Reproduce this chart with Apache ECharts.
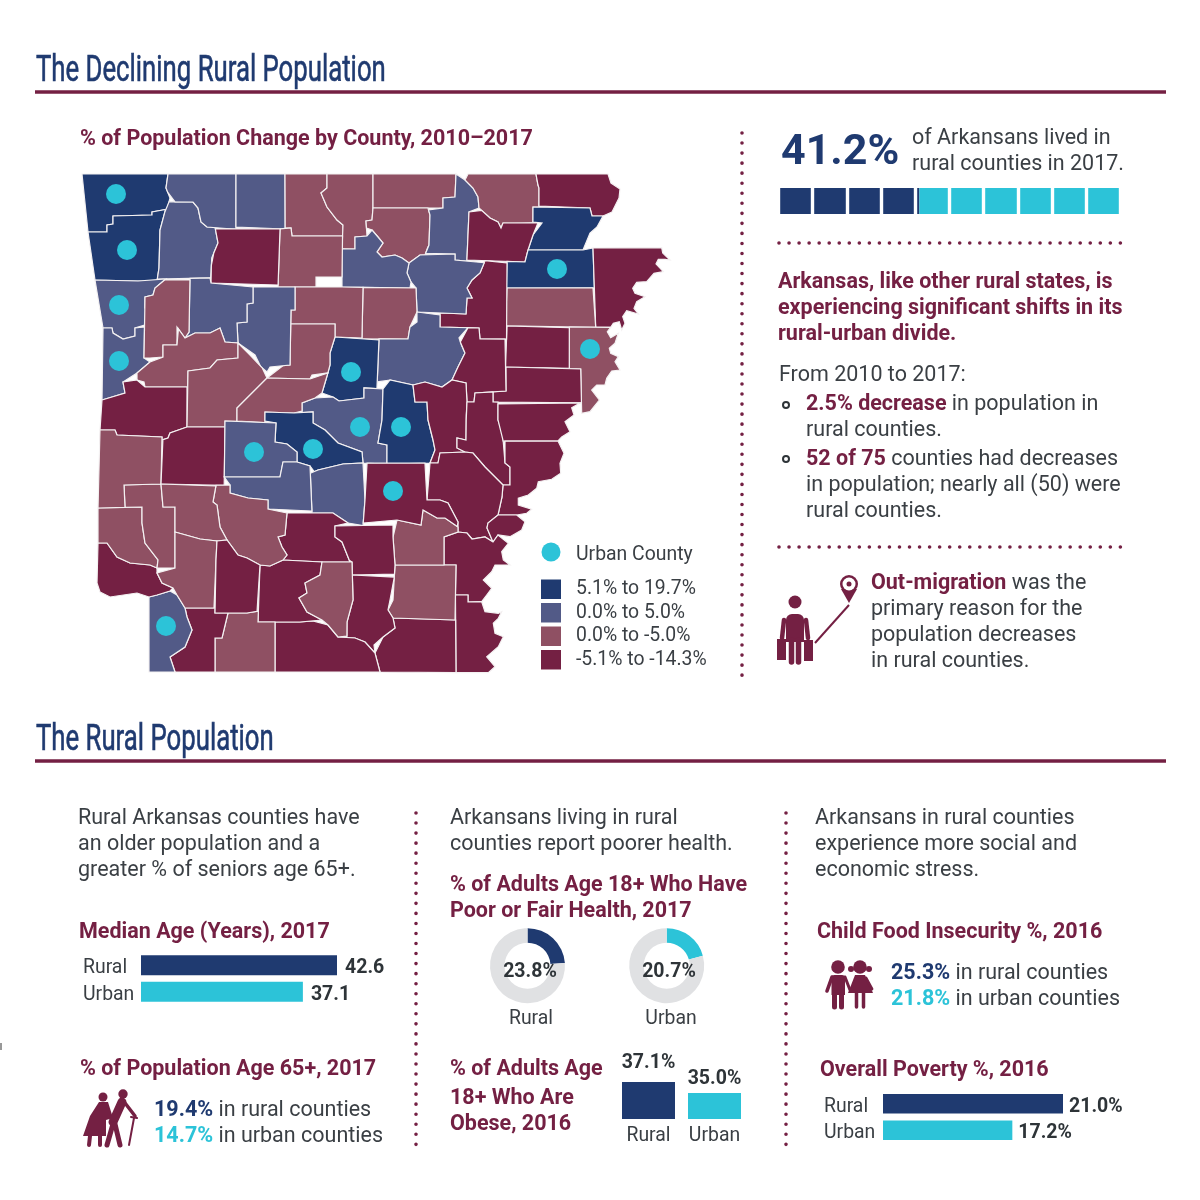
<!DOCTYPE html>
<html><head><meta charset="utf-8">
<style>html,body{margin:0;padding:0;background:#fff}#c{width:1200px;height:1200px}</style>
<script src="https://cdn.jsdelivr.net/npm/echarts@6/dist/echarts.min.js"></script>
</head><body><div id="c"></div>
<script>
// ---------- DATA ----------
const classLabels = ['5.1% to 19.7%','0.0% to 5.0%','0.0% to -5.0%','-5.1% to -14.3%'];
const growthHigh = ['Benton','Washington','Pulaski','Faulkner','Lonoke','Greene','Craighead'];
const growthLow = ['Madison','Carroll','Boone','Izard','Independence','Stone','Johnson','Crawford','Sebastian','Saline','Garland','Hot Spring','White','Miller','Perry East','Perry South'];
const declineLow = ['Marion','Baxter','Fulton','Sharp','Randolph','Searcy','Cleburne','Van Buren','Pope','Franklin','Logan','Yell','Conway','Poinsett','Crittenden','Lincoln','Drew','Calhoun','Columbia','Hempstead','Sevier','Howard','Polk','Pike','Clark'];
const declineHigh = ['Clay','Lawrence','Mississippi','Cross','St. Francis','Jackson','Woodruff','Newton','Scott','Montgomery','Prairie','Monroe','Lee','Phillips','Arkansas','Desha','Chicot','Chicot South','Ashley','Bradley','Union','Ouachita','Nevada','Lafayette','Little River','Grant','Cleveland','Jefferson'];
const countyOutlines = {
 'Benton':[[82,174],[168,174],[166,188],[170,198],[169,210],[152,212],[152,215],[113,216],[113,224],[107,225],[107,232],[88,232]],
 'Washington':[[89,232],[107,232],[107,225],[113,224],[113,216],[152,215],[152,212],[166,212],[160,230],[159,268],[157,279],[138,279],[138,281],[95,280]],
 'Madison':[[170,202],[193,202],[198,208],[201,222],[207,227],[215,229],[218,243],[212,258],[210,278],[158,278],[160,268],[161,230],[167,212]],
 'Carroll':[[170,174],[236,174],[236,227],[207,227],[201,222],[198,208],[193,202],[175,200],[169,192],[167,188]],
 'Boone':[[237,174],[285,174],[285,228],[237,227]],
 'Marion':[[287,174],[327,174],[327,188],[321,193],[327,207],[337,220],[343,225],[342,236],[292,236],[291,228],[286,228]],
 'Baxter':[[329,174],[373,174],[373,208],[372,220],[366,221],[367,236],[355,237],[355,249],[343,249],[343,225],[337,220],[327,207],[321,193],[328,188]],
 'Fulton':[[374,174],[456,174],[455,197],[443,198],[443,208],[374,208]],
 'Sharp':[[373,209],[428,210],[430,215],[429,245],[426,247],[425,253],[420,255],[409,263],[402,258],[395,255],[382,257],[377,252],[383,243],[378,237],[372,230],[367,228],[368,221],[373,220]],
 'Izard':[[457,174],[465,180],[473,188],[478,197],[479,208],[469,212],[467,260],[455,260],[455,254],[427,253],[429,245],[430,215],[428,210],[443,208],[443,198],[456,197]],
 'Randolph':[[468,174],[536,174],[538,185],[539,188],[539,206],[533,207],[533,222],[503,223],[501,228],[498,222],[490,218],[480,210],[478,197],[473,188],[465,180]],
 'Clay':[[538,174],[608,174],[611,183],[620,189],[619,198],[612,212],[603,216],[592,216],[590,208],[540,207],[539,188],[538,185]],
 'Greene':[[534,208],[590,208],[592,217],[603,217],[597,227],[590,233],[583,250],[528,250],[533,235],[542,223],[534,222]],
 'Lawrence':[[469,212],[480,212],[490,218],[498,222],[501,228],[503,224],[538,224],[533,235],[528,250],[525,262],[468,261]],
 'Craighead':[[527,252],[583,251],[583,248],[593,248],[593,288],[507,288],[507,263],[525,262]],
 'Mississippi':[[595.7,247.7],[661.7,247.7],[662.7,253],[670,260],[665,259.3],[658.3,259.3],[656,264],[663.3,271.7],[654,273.3],[646.7,281.7],[636.7,282.3],[632.7,288.3],[635,293.3],[645,296.7],[636.7,301.7],[634,308.3],[638.3,314],[626.7,310.7],[622.7,316.7],[625,323.3],[621.7,330],[619.3,321.7],[613.3,323.3],[610.7,327.3],[595.7,327.3]],
 'Poinsett':[[507,289],[593,290],[594,326],[507,326]],
 'Crittenden':[[569.3,327.7],[610.7,327.7],[607.3,331.7],[610.7,337.7],[618.3,333.3],[615,343.3],[609.3,348.3],[610.7,353.3],[618.3,356.7],[615,361.7],[620,370],[611.7,371],[606.7,378.3],[605,385],[596.7,385],[591.7,390],[599.3,400],[590,411.7],[581.7,413.3],[580.7,369],[569.3,368.3]],
 'Cross':[[507,328],[568,328],[568,368],[506,367]],
 'St. Francis':[[493,392],[506,391],[507,369],[580,370],[580,403],[493,402]],
 'Jackson':[[485,263],[505,263],[505,339],[480,339],[479,328],[440,327],[440,315],[466,314],[467,298],[472,298],[467,288],[472,280],[480,273]],
 'Independence':[[410,263],[420,255],[455,255],[455,261],[485,263],[480,273],[472,280],[467,288],[472,298],[467,298],[466,313],[417,312],[416,288],[411,282],[407,273]],
 'Stone':[[343,251],[355,250],[355,238],[367,237],[372,230],[378,237],[383,243],[377,252],[382,257],[395,255],[402,258],[409,263],[407,273],[411,282],[410,288],[342,287]],
 'Searcy':[[280,230],[290,230],[291,237],[342,237],[342,277],[316,277],[316,286],[278,285]],
 'Newton':[[217,230],[279,230],[278,284],[211,283],[210,265],[213,253],[218,243]],
 'Cleburne':[[363,289],[415,290],[415,313],[410,327],[408,339],[362,338]],
 'Van Buren':[[295,287],[341,287],[362,289],[361,338],[335,337],[335,324],[290,324],[291,310],[295,310]],
 'White':[[417,314],[440,315],[440,328],[468,328],[459,338],[462,345],[465,353],[458,367],[457,375],[452,380],[442,387],[425,382],[413,385],[390,380],[378,382],[379,340],[408,340],[411,327],[417,322]],
 'Woodruff':[[469,328],[479,328],[480,339],[505,340],[504,390],[482,392],[475,393],[474,402],[467,402],[466,383],[453,380],[458,367],[465,353],[460,342]],
 'Faulkner':[[335,339],[377,340],[377,387],[364,388],[364,398],[339,401],[333,397],[322,393],[327,377],[330,365],[330,353]],
 'Pope':[[291,325],[334,325],[334,338],[330,353],[330,365],[328,373],[312,375],[310,379],[267,378],[283,367],[290,365]],
 'Johnson':[[253,287],[294,287],[294,310],[290,310],[290,365],[270,367],[267,372],[262,365],[255,355],[238,343],[237,323],[247,322],[247,304],[253,303]],
 'Perry East':[[190,280],[210,280],[211,285],[252,286],[252,303],[246,304],[246,322],[237,323],[237,342],[225,342],[220,328],[210,333],[195,333],[185,338],[189,332]],
 'Perry South':[[302,403],[315,398],[333,397],[339,401],[364,399],[364,389],[383,389],[382,420],[378,443],[387,445],[387,463],[363,463],[362,452],[338,443],[325,430],[313,423],[313,412],[302,411]],
 'Crawford':[[96,282],[138,282],[166,281],[155,288],[153,295],[145,297],[146,308],[150,308],[148,324],[135,328],[135,336],[123,339],[113,333],[112,328],[103,328]],
 'Sebastian':[[103,330],[112,328],[113,333],[123,339],[135,336],[135,328],[144,327],[144,358],[150,362],[137,373],[123,382],[125,393],[112,397],[102,400]],
 'Franklin':[[167,281],[188,280],[188,333],[185,338],[177,327],[177,345],[163,345],[163,357],[150,358],[144,358],[145,297],[153,295],[156,288]],
 'Logan':[[150,362],[163,358],[163,346],[177,346],[177,330],[185,338],[195,333],[210,333],[220,328],[225,342],[238,345],[238,358],[217,360],[210,368],[188,371],[187,387],[145,387],[144,382],[137,380],[137,372]],
 'Scott':[[102,401],[125,394],[123,382],[137,381],[144,387],[187,388],[187,427],[170,433],[168,438],[163,440],[162,437],[117,435],[115,430],[100,430]],
 'Yell':[[188,372],[210,369],[217,360],[238,358],[238,345],[250,355],[262,368],[267,378],[237,408],[237,421],[225,421],[225,427],[188,427]],
 'Conway':[[267,379],[311,379],[328,373],[322,392],[315,398],[302,403],[302,411],[294,413],[265,412],[265,421],[238,421],[238,408]],
 'Pulaski':[[266,413],[294,414],[313,413],[313,423],[325,430],[338,443],[362,452],[362,461],[343,464],[318,470],[315,473],[310,466],[297,462],[297,452],[287,444],[275,442],[276,423],[266,421]],
 'Saline':[[318,472],[343,464],[365,463],[365,500],[363,523],[348,523],[333,513],[312,511],[312,473]],
 'Lonoke':[[383,389],[390,381],[413,385],[415,402],[427,402],[428,420],[433,440],[435,450],[430,463],[388,463],[388,444],[378,443],[382,420]],
 'Prairie':[[415,385],[425,382],[442,387],[453,381],[466,383],[466,403],[468,408],[466,415],[466,440],[457,438],[457,448],[465,452],[440,453],[438,463],[430,463],[435,450],[433,440],[428,420],[427,402],[415,402]],
 'Monroe':[[467,404],[475,403],[476,393],[492,392],[493,403],[498,404],[498,420],[505,433],[505,463],[510,467],[510,485],[503,485],[498,480],[485,467],[473,453],[463,450],[457,448],[457,438],[466,440],[466,420]],
 'Lee':[[498,403],[579,405],[571.7,407.7],[574,415],[565,421.7],[570,431.7],[561.7,437],[558,441],[505,441],[498,420]],
 'Phillips':[[505,442.7],[558.3,442.7],[564,453.3],[560,463.3],[560.7,473.3],[551.7,479.3],[538.3,481.7],[536.7,488.3],[528.3,495],[518.3,498.3],[518.3,505],[531.7,509.3],[526.7,513.3],[516.7,515],[498,515],[502,497],[503,486],[510,485],[510,467],[505,463]],
 'Arkansas':[[428,464],[438,464],[440,453],[465,452],[473,453],[485,467],[498,480],[503,486],[502,497],[498,515],[488,523],[487,528],[493,542],[485,537],[472,539],[467,533],[458,532],[458,522],[448,503],[440,500],[427,500]],
 'Desha':[[498,516.7],[516.7,516.7],[525,521.7],[521.7,530],[510,536.7],[498,535],[493,542],[487,528],[488,523]],
 'Chicot':[[444,537],[458,532],[467,535],[472,539],[485,537],[493,542],[498,536.7],[508.3,543.3],[501.7,551.7],[503.3,560],[510,565],[495,565],[491.7,571.7],[483.3,580],[491.7,588.3],[486.7,595],[481.7,601.7],[468,602],[468,595],[456,595],[456,565],[444,563]],
 'Chicot South':[[456,597],[468,597],[468,602],[481.7,602.7],[485,611.7],[498.3,613.3],[501.7,611.7],[498.3,618.3],[493.3,623.3],[495,633.3],[503.3,636.7],[498.3,646.7],[486.7,656.7],[495,666.7],[488.3,672.7],[456,672.7]],
 'Ashley':[[393,618],[455,620],[455,673],[380,672],[375,653],[383,637],[395,628]],
 'Drew':[[395,565],[456,565],[456,618],[395,617],[388,610],[393,600]],
 'Lincoln':[[397,520],[421,525],[423,510],[437,518],[445,518],[457,527],[457,533],[444,537],[444,563],[395,563],[393,537]],
 'Jefferson':[[367,464],[425,464],[427,500],[440,500],[448,505],[458,522],[457,526],[445,518],[437,518],[423,509],[421,525],[397,520],[363,524],[365,500]],
 'Grant':[[287,513],[333,513],[347,522],[350,524],[335,526],[335,537],[342,542],[350,560],[352,562],[322,562],[283,560],[287,555],[282,547],[278,537],[285,535]],
 'Cleveland':[[335,526],[393,525],[393,537],[395,563],[393,574],[352,575],[352,562],[350,560],[342,542],[335,537]],
 'Bradley':[[353,577],[393,577],[390,600],[388,610],[394,618],[394,628],[383,637],[374,645],[375,652],[372,652],[365,642],[355,638],[347,636],[347,622],[353,600]],
 'Union':[[275,623],[300,622],[313,623],[328,625],[338,637],[355,637],[363,640],[375,652],[377,663],[380,672],[275,672]],
 'Ouachita':[[260,565],[270,566],[282,561],[322,562],[320,575],[305,583],[307,593],[299,598],[307,612],[322,620],[300,621],[258,622]],
 'Calhoun':[[323,563],[352,563],[353,600],[347,622],[347,636],[338,637],[328,625],[322,620],[307,612],[299,598],[307,593],[305,583],[320,575]],
 'Columbia':[[228,613],[247,613],[257,611],[258,622],[274,623],[274,672],[215,672],[215,638],[222,638]],
 'Lafayette':[[185,608],[214,608],[215,613],[227,613],[222,638],[215,638],[214,672],[175,672],[170,657],[185,647],[192,630],[187,617]],
 'Miller':[[149,597],[157,595],[170,591],[177,595],[185,608],[187,617],[192,630],[185,647],[170,657],[175,672],[149,672]],
 'Little River':[[98,543],[107,543],[117,557],[130,563],[150,565],[157,568],[157,573],[162,583],[173,588],[170,591],[157,595],[149,597],[137,593],[110,597],[100,592],[97,583]],
 'Sevier':[[98,508],[142,507],[142,523],[145,543],[158,560],[157,568],[150,565],[130,563],[117,557],[107,543],[98,542]],
 'Howard':[[124,485],[161,484],[163,507],[175,507],[175,568],[158,568],[158,560],[145,543],[142,523],[143,507],[125,507],[123,495]],
 'Polk':[[100,432],[115,432],[117,436],[161,437],[161,483],[123,483],[125,506],[98,507]],
 'Montgomery':[[163,440],[168,438],[170,434],[187,428],[224,428],[224,483],[163,483]],
 'Garland':[[226,423],[274,423],[275,442],[287,444],[297,452],[297,462],[283,462],[280,477],[225,477]],
 'Hot Spring':[[225,479],[280,478],[283,463],[297,463],[310,467],[310,511],[268,509],[268,500],[248,498],[230,493],[230,485]],
 'Clark':[[216,486],[229,486],[230,494],[248,498],[268,500],[268,510],[286,513],[285,536],[278,537],[282,547],[287,555],[282,560],[270,566],[260,565],[247,558],[238,555],[227,540],[220,527],[217,505],[213,502]],
 'Pike':[[162,484],[215,485],[213,502],[217,505],[220,527],[227,538],[217,541],[200,539],[175,532],[175,507],[163,507]],
 'Hempstead':[[176,533],[200,539],[216,541],[216,560],[215,607],[185,607],[177,595],[173,588],[162,583],[157,572],[175,569]],
 'Nevada':[[219,541],[227,540],[238,555],[247,558],[259,565],[258,611],[247,612],[215,612],[216,560]]
};
const urbanCountySeats = [[116,194],[127,250],[119,305],[119,361],[351,372],[360,427],[401,427],[313,449],[254,452],[393,491],[166,626],[590,349],[557,269]];

const ruralShare = [41.2];
const urbanShare = [58.8];
const barCategories = ['Rural','Urban'];
const medianAge = [42.6,37.1];
const povertyPct = [21.0,17.2];
const obesityPct = [37.1,35.0];
const poorHealthRural = [23.8,76.2];
const poorHealthUrban = [20.7,79.3];

// ---------- STYLE ----------
const NAVY='#1f3a70', MID='#525a87', MAUVE='#8f5063', MAROON='#742043', CYAN='#2cc3d8', INK='#3a3f44', DARK='#2e3438', GREY='#e0e1e3';
const FF='Roboto', BODY=21.5, HEAD=21.5, SMALL=19.4;

// ---------- MAP ----------
// close the hairline gaps between hand-read neighbours: shared corners and edges are snapped together
const names=Object.keys(countyOutlines);
const snapped=names.map(n=>countyOutlines[n].map(p=>p.slice()));
const canon=[];
snapped.forEach((poly,pi)=>poly.forEach(p=>{
  let best=null,bd=3;
  canon.forEach(c=>{ if(c.pi!==pi){const d=Math.hypot(c.p[0]-p[0],c.p[1]-p[1]); if(d<bd){bd=d;best=c;}} });
  if(best){p[0]=best.p[0];p[1]=best.p[1];} else canon.push({pi,p});
}));
snapped.forEach((poly,pi)=>poly.forEach(p=>{
  let bd=2.6,bx2=null,by2=null;
  snapped.forEach((o,oi)=>{ if(oi===pi) return;
    o.forEach((a,i)=>{const b=o[(i+1)%o.length],dx=b[0]-a[0],dy=b[1]-a[1],l=dx*dx+dy*dy; if(!l) return;
      const t=((p[0]-a[0])*dx+(p[1]-a[1])*dy)/l; if(t<=0||t>=1) return;
      const qx=a[0]+t*dx,qy=a[1]+t*dy,d=Math.hypot(qx-p[0],qy-p[1]); if(d<bd&&d>0.01){bd=d;bx2=qx;by2=qy;}});
  });
  if(bx2!==null){p[0]=bx2;p[1]=by2;}
}));
const features = names.map((n,i)=>({type:'Feature',properties:{name:n},geometry:{type:'Polygon',coordinates:[snapped[i].concat([snapped[i][0]])]}}));
echarts.registerMap('arkansas',{type:'FeatureCollection',features});
const classes=[growthHigh,growthLow,declineLow,declineHigh];
const mapData=[]; classes.forEach((l,i)=>l.forEach(n=>mapData.push({name:n,value:i+1})));
const allPts=snapped.flat();
const xs=allPts.map(p=>p[0]), ys=allPts.map(p=>p[1]);
const bx=Math.min(...xs), by=Math.min(...ys), bw=Math.max(...xs)-bx, bh=Math.max(...ys)-by;

// ---------- TEXT HELPERS ----------
const richStyles={
 b:{fontFamily:FF,fontWeight:700,fill:MAROON,fontSize:BODY},
 n:{fontFamily:FF,fontWeight:700,fill:NAVY,fontSize:BODY},
 c:{fontFamily:FF,fontWeight:700,fill:CYAN,fontSize:BODY},
 t:{fontFamily:FF,fontWeight:400,fill:INK,fontSize:BODY}
};
function T(x,y,text,o={}){
  return {type:'text',z:5,silent:true,x,y:y+2,scaleX:o.sx||1,style:{text,fontFamily:o.ff||FF,fontSize:o.size||BODY,fontWeight:o.w||400,fill:o.c||INK,
    stroke:o.st?o.c:undefined,lineWidth:o.st||0,textAlign:o.a||'left',textVerticalAlign:'middle',rich:o.rich?richStyles:undefined}};
}
const H=(x,y,s)=>T(x,y,s,{size:HEAD,w:700,c:MAROON});
const R=(x,y,s)=>T(x,y,s,{rich:true});
const fill=c=>({fill:c});
const line=(x1,y1,x2,y2,w,c,cap)=>({type:'line',z:5,silent:true,shape:{x1,y1,x2,y2},style:{stroke:c||MAROON,lineWidth:w,lineCap:cap||'round'}});
const circ=(cx,cy,r,c)=>({type:'circle',z:5,silent:true,shape:{cx,cy,r},style:fill(c||MAROON)});
const poly=(pts,c)=>({type:'polygon',z:5,silent:true,shape:{points:pts},style:fill(c||MAROON)});
const rect=(x,y,width,height,c,r)=>({type:'rect',z:5,silent:true,shape:{x,y,width,height,r:r||0},style:fill(c||MAROON)});
const dots=(x1,y1,x2,y2)=>({type:'line',z:5,silent:true,shape:{x1,y1,x2,y2},style:{stroke:MAROON,lineWidth:3.6,lineCap:'round',lineDash:[0.01,10.03]}});

const TITLE={ff:'"Liberation Sans Narrow",Roboto',size:36,c:NAVY,sx:0.715,st:0.6};
const elements=[
 T(36,69.5,'The Declining Rural Population',TITLE),
 line(35,92,1166,92,3.5,MAROON,'butt'),
 H(80,138,'% of Population Change by County, 2010–2017'),
 dots(742,133,742,679),
 T(781,151,'41.2%',{size:43,w:700,c:NAVY}),
 T(912,137,'of Arkansans lived in'),
 T(912,163,'rural counties in 2017.'),
 dots(779,243,1121,243),
 H(778,281,'Arkansas, like other rural states, is'),
 H(778,307,'experiencing significant shifts in its'),
 H(778,333,'rural-urban divide.'),
 T(779,374,'From 2010 to 2017:'),
 {type:'circle',z:5,silent:true,shape:{cx:786,cy:405,r:3},style:{fill:'#fff',stroke:DARK,lineWidth:2}},
 R(806,403,'{b|2.5% decrease}{t| in population in}'),
 T(806,429,'rural counties.'),
 {type:'circle',z:5,silent:true,shape:{cx:786,cy:459,r:3},style:{fill:'#fff',stroke:DARK,lineWidth:2}},
 R(806,458,'{b|52 of 75}{t| counties had decreases}'),
 T(806,484,'in population; nearly all (50) were'),
 T(806,510,'rural counties.'),
 dots(779,547,1121,547),
 R(871,582,'{b|Out-migration}{t| was the}'),
 T(871,608,'primary reason for the'),
 T(871,634,'population decreases'),
 T(871,660,'in rural counties.'),
 circ(551,552,9.5,CYAN),
 T(576,553,'Urban County',{size:SMALL}),

 T(36,738.5,'The Rural Population',TITLE),
 line(35,761,1166,761,3.5,MAROON,'butt'),
 T(78,817,'Rural Arkansas counties have'),
 T(78,843,'an older population and a'),
 T(78,869,'greater % of seniors age 65+.'),
 H(79,931,'Median Age (Years), 2017'),
 H(80,1068,'% of Population Age 65+, 2017'),
 R(154,1109,'{n|19.4%}{t| in rural counties}'),
 R(154,1135,'{c|14.7%}{t| in urban counties}'),
 dots(416,813,416,1153),
 T(450,817,'Arkansans living in rural'),
 T(450,843,'counties report poorer health.'),
 H(450,884,'% of Adults Age 18+ Who Have'),
 H(450,910,'Poor or Fair Health, 2017'),
 T(530,970,poorHealthRural[0].toFixed(1)+'%',{a:'center',size:19.5,w:700,c:DARK}),
 T(669,970,poorHealthUrban[0].toFixed(1)+'%',{a:'center',size:19.5,w:700,c:DARK}),
 T(531,1017,'Rural',{a:'center',size:SMALL}),
 T(671,1017,'Urban',{a:'center',size:SMALL}),
 H(450,1068,'% of Adults Age'),
 H(450,1097,'18+ Who Are'),
 H(450,1123,'Obese, 2016'),
 dots(786,813,786,1153),
 T(815,817,'Arkansans in rural counties'),
 T(815,843,'experience more social and'),
 T(815,869,'economic stress.'),
 H(817,931,'Child Food Insecurity %, 2016'),
 R(891,972,'{n|25.3%}{t| in rural counties}'),
 R(891,998,'{c|21.8%}{t| in urban counties}'),
 H(820,1069,'Overall Poverty %, 2016'),
 line(1,1043,1,1050,1,'#333','butt'),

 // traveller icon
 circ(795,602,6.5),
 rect(786,614,18,28,MAROON,[6,6,0,0]),
 line(784,620,782,638,4.5), line(806,620,808,638,4.5),
 line(791.5,640,791.5,662,5.5), line(798.5,640,798.5,662,5.5),
 rect(777,639,9,21), rect(804,640,9,21),
 line(815,643,849,605,2,MAROON,'butt'),
 circ(849,584,9), poly([[841,589],[857,589],[849,603]]), circ(849,584,6.5,'#fff'), circ(849,584,2.5),
 // seniors icon
 circ(103,1097,4.5), circ(123,1094,4.7),
 poly([[99,1102],[108,1102],[113,1118],[106,1120],[106,1136],[83,1136],[90,1116]]),
 line(90,1136,89,1145,4), line(100,1136,100,1145,4),
 line(122,1102,113,1122,9),
 line(113,1124,107,1145,5), line(115,1124,120,1145,5),
 line(125,1103,135,1116,3.5),
 line(134,1118,129,1145,2), line(131,1117,137,1118,2),
 // children icon
 circ(838,967,6.8), circ(860,967,6.8), circ(851,969,3), circ(869,969,3),
 rect(831.5,975,13.5,20,MAROON,[3,3,0,0]),
 line(832,977,827,991,3.6), line(845,977,850,990,3),
 line(834.5,995,834.5,1007,5), line(841.5,995,841.5,1007,5),
 poly([[855,975],[865,975],[873,993],[848,993]]),
 line(866,978,872,989,2.8),
 line(856.5,993,856.5,1007,3.5), line(863.5,993,863.5,1007,3.5)
];

const labelBold={show:true,fontFamily:FF,fontWeight:700,fontSize:19.5,color:DARK};
const axisCat=(grid,margin)=>({type:'category',gridIndex:grid,data:barCategories,inverse:true,axisLine:{show:false},axisTick:{show:false},
  axisLabel:{fontFamily:FF,fontSize:SMALL,color:INK,align:'left',margin,verticalAlign:'top',lineHeight:6,interval:0}});
const axisVal=(grid,min,max)=>({type:'value',gridIndex:grid,min,max,show:false});
const perBar=[NAVY,CYAN];

const option={
 animation:false,backgroundColor:'#fff',
 geo:{map:'arkansas',roam:false,silent:true,projection:{project:p=>p,unproject:p=>p},left:bx,top:by,width:bw,height:bh,
   label:{show:false},itemStyle:{areaColor:MAUVE,borderColor:'#f4f1f2',borderWidth:1.2},emphasis:{disabled:true},select:{disabled:true}},
 visualMap:{type:'piecewise',seriesIndex:0,left:526,top:564.5,orient:'vertical',inverse:true,itemSymbol:'rect',itemWidth:20,itemHeight:19.5,itemGap:4,textGap:15,selectedMode:false,hoverLink:false,
   pieces:classLabels.map((l,i)=>({value:i+1,label:l,color:[NAVY,MID,MAUVE,MAROON][i]})),
   textStyle:{fontFamily:FF,fontSize:SMALL,color:INK}},
 grid:[
  {left:778.5,top:188,width:342,height:26},
  {left:141,top:952,width:196,height:53},
  {left:883,top:1090.5,width:180,height:53},
  {left:615.5,top:1082,width:132,height:37}
 ],
 xAxis:[
  {type:'value',gridIndex:0,min:0,max:100,interval:10,z:10,axisLabel:{show:false},axisLine:{show:false},axisTick:{show:false},splitLine:{show:true,lineStyle:{color:'#fff',width:3.4}}},
  axisVal(1,11,42.6),
  axisVal(2,7.5,21),
  {type:'category',gridIndex:3,data:barCategories,axisLine:{show:false},axisTick:{show:false},axisLabel:{fontFamily:FF,fontSize:SMALL,color:INK,margin:8,interval:0,hideOverlap:false,width:66}}
 ],
 yAxis:[
  {type:'category',gridIndex:0,data:['share'],show:false},
  axisCat(1,58),
  axisCat(2,59),
  axisVal(3,30,37.1)
 ],
 series:[
  {type:'map',geoIndex:0,data:mapData},
  {type:'scatter',coordinateSystem:'geo',geoIndex:0,data:urbanCountySeats,symbolSize:20,itemStyle:{color:CYAN,opacity:1},silent:true,z:4},
  {type:'bar',xAxisIndex:0,yAxisIndex:0,stack:'w',data:ruralShare,barWidth:26,itemStyle:{color:NAVY},silent:true},
  {type:'bar',xAxisIndex:0,yAxisIndex:0,stack:'w',data:urbanShare,barWidth:26,itemStyle:{color:CYAN},silent:true},
  {type:'bar',xAxisIndex:1,yAxisIndex:1,data:medianAge.map((v,i)=>({value:v,itemStyle:{color:perBar[i]}})),barWidth:20,silent:true,
    label:{...labelBold,position:'right',distance:8,offset:[0,3],formatter:p=>p.value.toFixed(1)}},
  {type:'bar',xAxisIndex:2,yAxisIndex:2,data:povertyPct.map((v,i)=>({value:v,itemStyle:{color:perBar[i]}})),barWidth:19.5,silent:true,
    label:{...labelBold,position:'right',distance:6,offset:[0,3],formatter:p=>p.value.toFixed(1)+'%'}},
  {type:'bar',xAxisIndex:3,yAxisIndex:3,data:obesityPct.map((v,i)=>({value:v,itemStyle:{color:perBar[i]},label:{distance:[9,4][i]}})),barWidth:53,silent:true,
    label:{...labelBold,position:'top',formatter:p=>p.value.toFixed(1)+'%'}},
  ...[[poorHealthRural,527.5,NAVY],[poorHealthUrban,666.7,CYAN]].map(([d,cx,c])=>({
    type:'pie',center:[cx,965.7],radius:[23,37.5],startAngle:90,silent:true,clockwise:true,
    labelLine:{show:false},
    label:{show:false},
    data:[{value:d[0],itemStyle:{color:c}},{value:d[1],itemStyle:{color:GREY}}]
  }))
 ],
 graphic:{elements}
};
const chart=echarts.init(document.getElementById('c'),null,{renderer:'canvas',width:1200,height:1200});
chart.setOption(option);
</script></body></html>
